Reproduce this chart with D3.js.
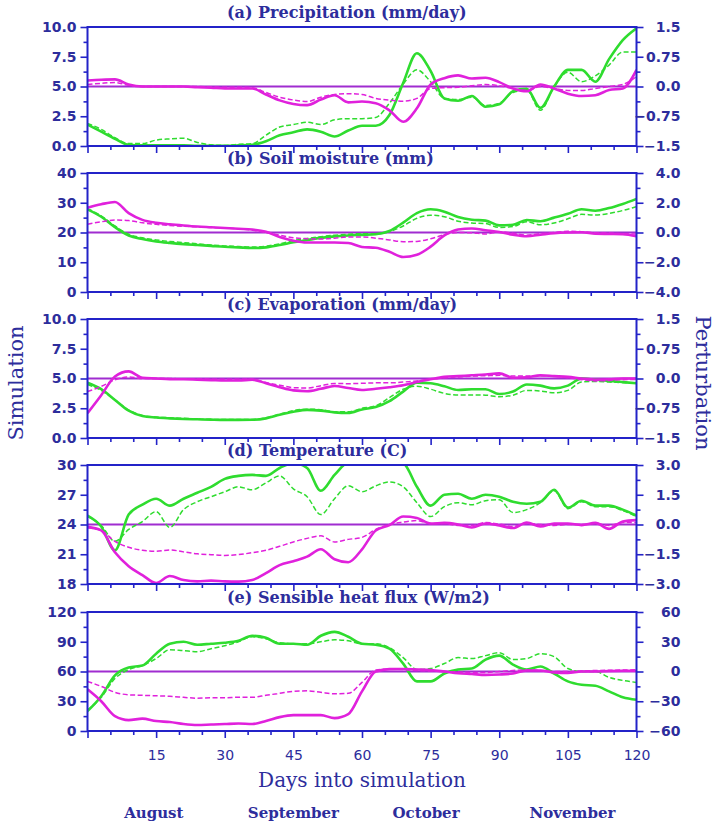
<!DOCTYPE html>
<html>
<head>
<meta charset="utf-8">
<script src="https://cdn.jsdelivr.net/npm/d3@7"></script>
<style>
  body { margin: 0; background: #fff; }
</style>
</head>
<body>
<div id="chart"></div>
<script>
// Days into simulation (every 3 days)
const days = [0, 3, 6, 9, 12, 15, 18, 21, 24, 27, 30, 33, 36, 39, 42, 45, 48, 51, 54, 57, 60,
  63, 66, 69, 72, 75, 78, 81, 84, 87, 90, 93, 96, 99, 102, 105, 108, 111, 114, 117, 120];

// (a) Precipitation
const precipSimSolid = [1.8, 1.2, 0.6, 0.1, 0.05, 0.05, 0.05, 0.05, 0.02, 0.02, 0.02, 0.05, 0.1, 0.4, 0.9, 1.15, 1.4, 1.2, 0.8, 1.3, 1.7,
  1.7, 2.6, 5.3, 7.8, 6.3, 4.0, 3.8, 4.2, 3.3, 3.5, 4.6, 4.8, 3.2, 5.0, 6.4, 6.4, 5.4, 7.3, 8.9, 9.9];
const precipSimDashed = [1.9, 1.4, 0.7, 0.2, 0.2, 0.5, 0.6, 0.65, 0.3, 0.1, 0.05, 0.15, 0.2, 0.9, 1.6, 1.8, 2.0, 1.8, 2.2, 2.3, 2.3,
  2.4, 3.6, 5.2, 6.4, 5.4, 4.0, 3.9, 4.1, 3.4, 3.6, 4.5, 4.7, 3.0, 5.0, 6.2, 5.4, 5.9, 6.8, 7.9, 7.9];
const precipPertSolid = [0.15, 0.17, 0.18, 0.05, 0.0, 0.0, 0.0, 0.0, -0.02, -0.03, -0.05, -0.05, -0.05, -0.2, -0.35, -0.44, -0.47, -0.33, -0.22, -0.4, -0.38,
  -0.42, -0.6, -0.89, -0.55, 0.05, 0.21, 0.28, 0.2, 0.22, 0.11, -0.05, -0.12, 0.05, -0.05, -0.18, -0.24, -0.22, -0.09, -0.05, 0.42];
const precipPertDashed = [0.05, 0.08, 0.1, 0.03, 0.0, 0.0, 0.0, 0.0, 0.0, -0.01, -0.02, -0.02, -0.03, -0.15, -0.27, -0.34, -0.38, -0.27, -0.2, -0.18, -0.2,
  -0.3, -0.34, -0.37, -0.3, -0.05, -0.03, -0.02, 0.02, 0.05, 0.02, -0.05, -0.1, 0.0, -0.05, -0.1, -0.1, -0.05, 0.0, 0.05, 0.25];

// (b) Soil moisture
const soilSimSolid = [27.8, 25.3, 21.8, 19.0, 17.8, 17.0, 16.5, 16.1, 15.8, 15.5, 15.2, 15.0, 14.8, 15.0, 15.8, 16.7, 17.5, 18.2, 18.7, 19.0, 19.2,
  19.4, 20.5, 23.3, 26.5, 27.8, 27.0, 25.2, 24.3, 24.0, 22.4, 22.6, 24.2, 23.8, 25.0, 26.3, 27.8, 27.3, 28.2, 29.6, 31.3];
const soilSimDashed = [28.0, 25.6, 22.2, 19.4, 18.2, 17.5, 17.0, 16.6, 16.2, 15.8, 15.5, 15.3, 15.1, 15.4, 16.2, 17.3, 18.0, 18.6, 19.1, 19.4, 19.6,
  19.5, 20.3, 22.2, 24.8, 25.8, 25.3, 23.8, 23.2, 23.0, 21.7, 22.0, 23.6, 22.6, 23.2, 24.6, 26.1, 25.9, 26.4, 27.4, 28.7];
const soilPertSolid = [1.67, 1.9, 2.05, 1.3, 0.85, 0.65, 0.55, 0.47, 0.4, 0.35, 0.3, 0.25, 0.2, 0.05, -0.3, -0.55, -0.67, -0.67, -0.67, -0.71, -0.97,
  -1.03, -1.3, -1.65, -1.5, -0.95, -0.2, 0.2, 0.27, 0.15, 0.03, -0.15, -0.25, -0.15, -0.05, 0.0, 0.02, -0.08, -0.1, -0.12, -0.25];
const soilPertDashed = [0.56, 0.72, 0.84, 0.8, 0.65, 0.55, 0.47, 0.42, 0.38, 0.34, 0.3, 0.25, 0.15, 0.0, -0.18, -0.35, -0.42, -0.44, -0.38, -0.3, -0.3,
  -0.38, -0.5, -0.62, -0.6, -0.42, -0.15, 0.0, -0.02, -0.1, 0.05, -0.05, -0.18, -0.08, 0.0, 0.08, 0.05, -0.02, -0.04, -0.08, -0.1];

// (c) Evaporation
const evapSimSolid = [4.64, 4.1, 3.2, 2.3, 1.85, 1.72, 1.65, 1.6, 1.57, 1.54, 1.52, 1.52, 1.53, 1.65, 1.95, 2.2, 2.36, 2.3, 2.15, 2.1, 2.4,
  2.6, 3.1, 3.9, 4.65, 4.6, 4.35, 4.03, 4.1, 4.1, 3.7, 3.9, 4.5, 4.4, 4.17, 4.4, 5.0, 4.9, 4.8, 4.7, 4.6];
const evapSimDashed = [4.5, 4.0, 3.2, 2.35, 1.9, 1.76, 1.7, 1.65, 1.6, 1.57, 1.55, 1.55, 1.56, 1.7, 2.0, 2.3, 2.42, 2.38, 2.2, 2.2, 2.5,
  2.7, 3.4, 4.1, 4.35, 4.1, 3.75, 3.62, 3.62, 3.6, 3.47, 3.6, 4.0, 3.95, 3.8, 4.0, 4.7, 4.75, 4.7, 4.65, 4.6];
const evapPertSolid = [-0.875, -0.42, 0.05, 0.18, 0.02, 0.0, -0.02, -0.02, -0.03, -0.04, -0.05, -0.05, -0.03, -0.12, -0.22, -0.3, -0.32, -0.26, -0.19, -0.24, -0.29,
  -0.26, -0.22, -0.17, -0.09, -0.02, 0.04, 0.06, 0.08, 0.1, 0.13, 0.02, 0.03, 0.08, 0.06, 0.04, 0.0, -0.03, -0.02, 0.0, 0.0];
const evapPertDashed = [-0.33, -0.2, -0.03, 0.04, 0.0, 0.0, 0.0, -0.01, -0.01, -0.02, -0.02, -0.02, -0.02, -0.1, -0.17, -0.23, -0.24, -0.18, -0.125, -0.13, -0.12,
  -0.11, -0.11, -0.09, -0.06, -0.02, 0.02, 0.04, 0.06, 0.07, 0.08, 0.06, 0.06, 0.07, 0.06, 0.02, -0.03, -0.06, -0.05, -0.03, -0.025];

// (d) Temperature
const tempSimSolid = [24.9, 23.8, 21.4, 25.0, 26.0, 26.6, 25.9, 26.6, 27.2, 27.8, 28.6, 28.9, 29.0, 28.9, 29.7, 30.2, 29.7, 27.4, 29.0, 30.3, 30.5,
  30.6, 30.5, 30.2, 27.8, 25.9, 27.0, 27.1, 26.6, 27.0, 26.8, 26.3, 26.1, 26.3, 27.5, 25.7, 26.4, 25.9, 25.9, 25.5, 24.9];
const tempSimDashed = [24.8, 23.9, 22.3, 23.5, 24.3, 25.3, 23.7, 25.5, 26.3, 26.8, 27.3, 27.8, 27.5, 28.2, 28.9, 27.6, 26.8, 25.0, 26.6, 27.9, 27.3,
  27.9, 28.3, 27.8, 26.2, 24.8, 25.8, 26.2, 26.0, 26.4, 26.5, 25.2, 25.5, 26.2, 27.4, 25.6, 26.3, 25.8, 25.8, 25.4, 24.8];
const tempPertSolid = [-0.12, -0.3, -1.4, -2.1, -2.55, -2.95, -2.6, -2.8, -2.87, -2.83, -2.87, -2.88, -2.8, -2.45, -2.05, -1.85, -1.62, -1.25, -1.75, -1.9, -1.25,
  -0.3, -0.03, 0.4, 0.33, 0.05, 0.08, 0.0, -0.15, 0.05, -0.05, -0.18, 0.1, -0.1, 0.05, 0.05, -0.03, 0.08, -0.22, 0.15, 0.22];
const tempPertDashed = [-0.17, -0.3, -0.85, -1.15, -1.3, -1.35, -1.28, -1.38, -1.48, -1.52, -1.56, -1.52, -1.42, -1.3, -1.1, -0.88, -0.7, -0.57, -0.88, -0.75, -0.65,
  -0.25, 0.0, 0.12, 0.2, 0.05, 0.05, -0.05, -0.05, 0.1, 0.02, -0.1, 0.05, 0.0, -0.05, 0.0, 0.0, 0.05, -0.05, 0.1, 0.1];

// (e) Sensible heat flux
const shfSimSolid = [20, 35, 56, 64, 66, 78, 88, 90, 87, 88, 89, 91, 96, 94, 88, 88, 87, 96, 100, 95, 88,
  87, 83, 68, 50, 50, 58, 62, 63, 72, 76, 67, 62, 65, 58, 50, 46.6, 45.6, 40, 34, 31.5];
const shfSimDashed = [21, 34, 53, 62, 66, 73, 82, 81, 80, 83, 86, 90, 95, 93, 89, 88, 88, 90, 92, 91, 88,
  88, 84, 74, 62, 63, 68, 74, 73, 76, 79, 72, 73, 78, 75, 63, 60, 60, 54, 51, 49];
const shfPertSolid = [-18, -30, -45, -49, -47.5, -50, -51, -53, -54, -53.5, -53, -52.5, -53, -50, -46, -44, -44, -44, -47, -43, -20,
  0, 2.4, 2.5, 2, 1.5, 0, -1.7, -2.5, -3.4, -3, -2, 1, 1, -1, -1.5, 0, 0, 0.5, 0.7, 0.7];
const shfPertDashed = [-10, -15, -21, -23.5, -24, -24.5, -25, -26, -27, -26.5, -26.5, -26, -26, -24, -22, -20, -19.5, -21, -22.5, -22, -11,
  1.5, 2.4, 2, 1, 0.5, 0, -0.5, -1, -1, 0, 1, 1.7, 1, 0, 0, 0.5, 1, 1.2, 1.5, 1.7];

// Axis ticks and labels
const dayTicks = [0, 15, 30, 45, 60, 75, 90, 105, 120];
const months = ['August', 'September', 'October', 'November'];
const monthDays = [14.5, 45, 74, 106];

const panels = [
  { title: '(a) Precipitation (mm/day)', sim: [precipSimSolid, precipSimDashed], pert: [precipPertSolid, precipPertDashed],
    simTicks: [0, 2.5, 5, 7.5, 10], simFmt: '.1f', pertTicks: [-1.5, -0.75, 0, 0.75, 1.5], pertLabels: ['\u22121.5', '\u22120.75', '0.0', '0.75', '1.5'] },
  { title: '(b) Soil moisture (mm)', sim: [soilSimSolid, soilSimDashed], pert: [soilPertSolid, soilPertDashed],
    simTicks: [0, 10, 20, 30, 40], simFmt: 'd', pertTicks: [-4, -2, 0, 2, 4], pertLabels: ['\u22124.0', '\u22122.0', '0.0', '2.0', '4.0'] },
  { title: '(c) Evaporation (mm/day)', sim: [evapSimSolid, evapSimDashed], pert: [evapPertSolid, evapPertDashed],
    simTicks: [0, 2.5, 5, 7.5, 10], simFmt: '.1f', pertTicks: [-1.5, -0.75, 0, 0.75, 1.5], pertLabels: ['\u22121.5', '\u22120.75', '0.0', '0.75', '1.5'] },
  { title: '(d) Temperature (C)', sim: [tempSimSolid, tempSimDashed], pert: [tempPertSolid, tempPertDashed],
    simTicks: [18, 21, 24, 27, 30], simFmt: 'd', pertTicks: [-3, -1.5, 0, 1.5, 3], pertLabels: ['\u22123.0', '\u22121.5', '0.0', '1.5', '3.0'] },
  { title: '(e) Sensible heat flux (W/m2)', sim: [shfSimSolid, shfSimDashed], pert: [shfPertSolid, shfPertDashed],
    simTicks: [0, 30, 60, 90, 120], simFmt: 'd', pertTicks: [-60, -30, 0, 30, 60], pertLabels: ['\u221260', '\u221230', '0', '30', '60'] }
];

// Layout
const width = 717, height = 828;
const left = 87.5, right = 636.5;
const panelTops = [27, 173, 319, 465, 612];
const panelH = 119;

const axisColor = '#2323c8';
const textColor = '#2d2d9c';
const green = '#2fdc2f';
const magenta = '#e021dc';
const zeroColor = '#a02cd0';

const svg = d3.select('#chart')
  .append('svg')
  .attr('width', width)
  .attr('height', height);

const x = d3.scaleLinear().domain([0, 120]).range([0, right - left]);

// minor tick values between majors (one per interval)
function midTicks(t) {
  return t.slice(1).map((v, i) => (v + t[i]) / 2);
}

panels.forEach((p, pi) => {
  const g = svg.append('g')
    .attr('transform', `translate(${left},${panelTops[pi]})`);

  const ySim = d3.scaleLinear().domain(d3.extent(p.simTicks)).range([panelH, 0]);
  const yPert = d3.scaleLinear().domain(d3.extent(p.pertTicks)).range([panelH, 0]);

  // clip
  g.append('clipPath')
    .attr('id', 'clip' + pi)
    .append('rect')
    .attr('width', x.range()[1])
    .attr('height', panelH);

  // title
  svg.append('text')
    .attr('x', 227)
    .attr('y', panelTops[pi] - 9)
    .attr('font-family', 'DejaVu Serif')
    .attr('font-weight', 'bold')
    .attr('font-size', '16px')
    .attr('fill', textColor)
    .text(p.title);

  const plot = g.append('g').attr('clip-path', `url(#clip${pi})`);

  // zero line of perturbation
  plot.append('line')
    .attr('x1', 0)
    .attr('x2', x.range()[1])
    .attr('y1', yPert(0))
    .attr('y2', yPert(0))
    .attr('stroke', zeroColor)
    .attr('stroke-width', 1.8);

  const simLine = d3.line()
    .x((d, i) => x(days[i]))
    .y(d => ySim(d))
    .curve(d3.curveMonotoneX);
  const pertLine = d3.line()
    .x((d, i) => x(days[i]))
    .y(d => yPert(d))
    .curve(d3.curveMonotoneX);

  const styles = [
    { w: 2.6, dash: null },
    { w: 1.5, dash: '5,2.5' }
  ];

  p.sim.forEach((s, k) => {
    plot.append('path')
      .datum(s)
      .attr('d', simLine)
      .attr('fill', 'none')
      .attr('stroke', green)
      .attr('stroke-width', styles[k].w)
      .attr('stroke-dasharray', styles[k].dash);
  });
  p.pert.forEach((s, k) => {
    plot.append('path')
      .datum(s)
      .attr('d', pertLine)
      .attr('fill', 'none')
      .attr('stroke', magenta)
      .attr('stroke-width', styles[k].w)
      .attr('stroke-dasharray', styles[k].dash);
  });

  // box
  g.append('rect')
    .attr('width', x.range()[1])
    .attr('height', panelH)
    .attr('fill', 'none')
    .attr('stroke', axisColor)
    .attr('stroke-width', 2);

  // left axis
  const fmt = d3.format(p.simFmt);
  const leftAxis = g.append('g')
    .call(d3.axisLeft(ySim).tickValues(p.simTicks).tickFormat(fmt).tickSize(7).tickPadding(4));
  g.append('g')
    .call(d3.axisLeft(ySim).tickValues(midTicks(p.simTicks)).tickFormat('').tickSize(4));

  // right axis
  const rightAxis = g.append('g')
    .attr('transform', `translate(${x.range()[1]},0)`)
    .call(d3.axisRight(yPert).tickValues(p.pertTicks).tickFormat((d, i) => p.pertLabels[i]).tickSize(7));
  rightAxis.selectAll('text')
    .attr('text-anchor', 'end')
    .attr('x', 44);
  g.append('g')
    .attr('transform', `translate(${x.range()[1]},0)`)
    .call(d3.axisRight(yPert).tickValues(midTicks(p.pertTicks)).tickFormat('').tickSize(4));

  // bottom axis
  const isLast = pi === panels.length - 1;
  const bottomAxis = g.append('g')
    .attr('transform', `translate(0,${panelH})`)
    .call(d3.axisBottom(x).tickValues(dayTicks)
      .tickFormat(d => (isLast && d > 0) ? d : '')
      .tickSize(7).tickPadding(12));
  g.append('g')
    .attr('transform', `translate(0,${panelH})`)
    .call(d3.axisBottom(x).tickValues(d3.range(5, 120, 5).filter(d => d % 15 !== 0)).tickFormat('').tickSize(4));

  [leftAxis, rightAxis, bottomAxis].forEach(a => {
    a.selectAll('text')
      .attr('font-family', 'DejaVu Sans')
      .attr('font-weight', 'bold')
      .attr('font-size', '14px')
      .attr('fill', textColor);
  });
  bottomAxis.selectAll('text').attr('font-weight', 'normal').attr('font-size', '14px');

  g.selectAll('.domain').remove();
  g.selectAll('.tick line')
    .attr('stroke', axisColor)
    .attr('stroke-width', 1.6);
});

// Axis titles
svg.append('text')
  .attr('x', (left + right) / 2)
  .attr('y', 787)
  .attr('text-anchor', 'middle')
  .attr('font-family', 'DejaVu Serif')
  .attr('font-size', '20px')
  .attr('fill', textColor)
  .text('Days into simulation');

svg.selectAll('.month')
  .data(months)
  .enter()
  .append('text')
  .attr('class', 'month')
  .attr('x', (d, i) => left + x(monthDays[i]))
  .attr('y', 818)
  .attr('text-anchor', 'middle')
  .attr('font-family', 'DejaVu Serif')
  .attr('font-weight', 'bold')
  .attr('font-size', '15px')
  .attr('fill', textColor)
  .text(d => d);

svg.append('text')
  .attr('transform', 'translate(23,383) rotate(-90)')
  .attr('text-anchor', 'middle')
  .attr('font-family', 'DejaVu Serif')
  .attr('font-size', '21px')
  .attr('fill', textColor)
  .text('Simulation');

svg.append('text')
  .attr('transform', 'translate(696,383) rotate(90)')
  .attr('text-anchor', 'middle')
  .attr('font-family', 'DejaVu Serif')
  .attr('font-size', '21px')
  .attr('fill', textColor)
  .text('Perturbation');
</script>
</body>
</html>
